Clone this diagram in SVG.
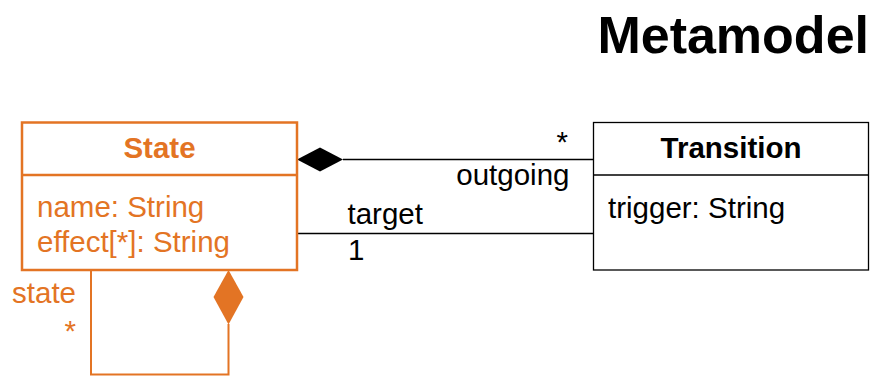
<svg xmlns="http://www.w3.org/2000/svg" width="877" height="376" viewBox="0 0 877 376">
  <style>
    text { font-family: "Liberation Sans", Arial, sans-serif; font-size: 29.5px; }
    .o { fill: #E37424; }
    .k { fill: #000; }
    .b { font-weight: bold; }
    .mid { text-anchor: middle; }
    .end { text-anchor: end; }
    .obox { fill: #fff; stroke: #E37424; stroke-width: 2.5; }
    .kbox { fill: #fff; stroke: #000; stroke-width: 1.3; }
    .kline { fill: none; stroke: #000; stroke-width: 1.3; }
    .oline { fill: none; stroke: #E37424; stroke-width: 2; }
  </style>
  <rect width="877" height="376" fill="#fff"/>
  <text id="title" class="k b end" x="869" y="53" style="font-size:52px">Metamodel</text>

  <g id="connectors">
    <g id="outgoing">
      <line class="kline" x1="343" y1="159.5" x2="593.5" y2="159.5"/>
      <polygon points="297,159.5 320,147.5 343,159.5 320,171.5" fill="#000"/>
      <text class="k end" x="568" y="152">*</text>
      <text class="k end" x="569.5" y="185">outgoing</text>
    </g>
    <g id="target">
      <line class="kline" x1="297" y1="233.5" x2="593.5" y2="233.5"/>
      <text class="k" x="347.5" y="224">target</text>
      <text class="k" x="348" y="260">1</text>
    </g>
    <g id="selfloop">
      <path class="oline" d="M91,270 V374.5 H228.5 V324"/>
      <polygon points="228.5,270 243.5,297 228.5,324.5 213.5,297" fill="#E37424"/>
      <text class="o end" x="76" y="303">state</text>
      <text class="o end" x="76" y="341">*</text>
    </g>
  </g>

  <g id="State">
    <rect class="obox" x="22" y="122.5" width="275" height="147.5"/>
    <line class="oline" style="stroke-width:2.5" x1="22" y1="175" x2="297" y2="175"/>
    <text class="o b mid" x="159.5" y="158">State</text>
    <text class="o" x="37" y="217">name: String</text>
    <text class="o" x="37" y="252">effect[*]: String</text>
  </g>

  <g id="Transition">
    <rect class="kbox" x="593.5" y="122.5" width="275" height="147.5"/>
    <line class="kline" x1="593.5" y1="175" x2="868.5" y2="175"/>
    <text class="k b mid" x="731" y="158">Transition</text>
    <text class="k" x="608" y="218">trigger: String</text>
  </g>
</svg>
